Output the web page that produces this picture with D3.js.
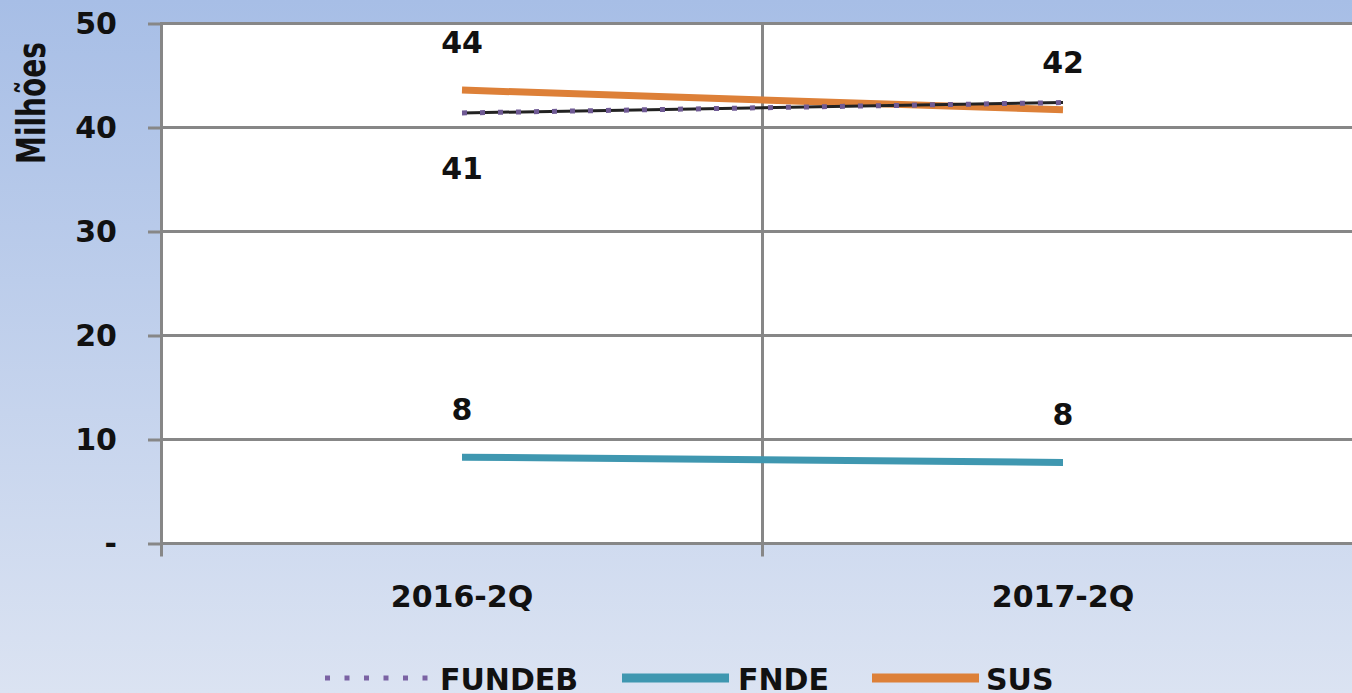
<!DOCTYPE html>
<html>
<head>
<meta charset="utf-8">
<script src="https://cdn.jsdelivr.net/npm/d3@7"></script>
<style>
  body { margin: 0; overflow: hidden; }
  text { font-family: "DejaVu Sans", sans-serif; font-weight: bold; fill: #111; }
</style>
</head>
<body>
<div id="chart"></div>
<script>
// data (milhões)
var categories = ["2016-2Q", "2017-2Q"];
var fundeb = [41.4, 42.4];
var fnde = [8.3, 7.8];
var sus = [43.6, 41.7];
var yTicks = [0, 10, 20, 30, 40, 50];
var yTickLabels = ["-", "10", "20", "30", "40", "50"];
var seriesNames = ["FUNDEB", "FNDE", "SUS"];

var width = 1352, height = 693;
var plot = {left: 161.5, top: 23.5, bottom: 543.5, right: 1363.5};

var svg = d3.select("#chart").append("svg")
    .attr("width", width)
    .attr("height", height);

// background gradient
var grad = svg.append("defs").append("linearGradient")
    .attr("id", "bg").attr("x1", 0).attr("y1", 0).attr("x2", 0).attr("y2", 1);
grad.append("stop").attr("offset", "0%").attr("stop-color", "#a7bee6");
grad.append("stop").attr("offset", "100%").attr("stop-color", "#dbe3f2");
svg.append("rect").attr("width", width).attr("height", height).attr("fill", "url(#bg)");

var x = d3.scaleBand().domain(categories).range([plot.left, plot.right]);
var y = d3.scaleLinear().domain([0, 50]).range([plot.bottom, plot.top]);
var cx = function(c) { return x(c) + x.bandwidth() / 2; };

// plot area
svg.append("rect")
    .attr("x", plot.left).attr("y", plot.top)
    .attr("width", width - plot.left).attr("height", plot.bottom - plot.top)
    .attr("fill", "white");

var gridColor = "#878787";

// horizontal grid
svg.append("g").selectAll("line")
  .data(yTicks)
  .enter().append("line")
    .attr("x1", plot.left).attr("x2", width)
    .attr("y1", function(d) { return y(d); })
    .attr("y2", function(d) { return y(d); })
    .attr("stroke", gridColor).attr("stroke-width", 3);

// vertical grid / category boundaries
var bounds = categories.map(function(c) { return x(c); });
svg.append("g").selectAll("line")
  .data(bounds)
  .enter().append("line")
    .attr("x1", function(d) { return d; }).attr("x2", function(d) { return d; })
    .attr("y1", plot.top - 1.5).attr("y2", y(0) + 13)
    .attr("stroke", gridColor).attr("stroke-width", 3);

// y axis
var yAxis = svg.append("g")
    .attr("transform", "translate(" + plot.left + ",0)")
    .call(d3.axisLeft(y)
      .tickValues(yTicks)
      .tickFormat(function(d, i) { return yTickLabels[i]; })
      .tickSize(13.5)
      .tickSizeOuter(0)
      .tickPadding(31));
yAxis.select(".domain").remove();
yAxis.selectAll("line").attr("stroke", gridColor).attr("stroke-width", 3);
yAxis.selectAll("text")
    .style("font-size", "30px")
    .style("font-family", "DejaVu Sans")
    .style("font-weight", "bold")
    .attr("fill", "#111");

// y title
svg.append("text")
    .attr("transform", "translate(45,103) rotate(-90) scale(1,1.4)")
    .attr("text-anchor", "middle")
    .style("font-size", "28px")
    .text("Milhões");

// x labels
svg.append("g").selectAll("text")
  .data(categories)
  .enter().append("text")
    .attr("x", function(d) { return cx(d); })
    .attr("y", 607)
    .attr("text-anchor", "middle")
    .style("font-size", "30px")
    .text(function(d) { return d; });

var line = d3.line()
    .x(function(d, i) { return cx(categories[i]); })
    .y(function(d) { return y(d); });

// FNDE
svg.append("path").datum(fnde)
    .attr("d", line).attr("fill", "none")
    .attr("stroke", "#3f97b0").attr("stroke-width", 7);

// SUS
svg.append("path").datum(sus)
    .attr("d", line).attr("fill", "none")
    .attr("stroke", "#dd8038").attr("stroke-width", 7);

// FUNDEB
svg.append("path").datum(fundeb)
    .attr("d", line).attr("fill", "none")
    .attr("stroke", "#222").attr("stroke-width", 3);
svg.append("path").datum(fundeb)
    .attr("d", line).attr("fill", "none")
    .attr("stroke", "#6f5a94").attr("stroke-width", 5)
    .attr("stroke-dasharray", "5,13");

// data labels
function labels(values, where) {
  svg.append("g").selectAll("text")
    .data(values)
    .enter().append("text")
      .filter(function(d, i) { return where[i] != null; })
      .attr("x", function(d, i) { return cx(categories[values.indexOf(d)]); })
      .attr("y", function(d) {
        var i = values.indexOf(d);
        return where[i] == "below" ? y(d) + 66 : y(d) - 37;
      })
      .attr("text-anchor", "middle")
      .style("font-size", "30px")
      .text(function(d) { return d3.format(".0f")(d); });
}
labels(fnde, ["above", "above"]);
labels(sus, ["above", "above"]);
labels(fundeb, ["below", null]);

// legend
var legend = svg.append("g");
legend.append("line")
    .attr("x1", 325).attr("x2", 430).attr("y1", 678).attr("y2", 678)
    .attr("stroke", "#7a62a3").attr("stroke-width", 5)
    .attr("stroke-dasharray", "5,14.5");
legend.append("line")
    .attr("x1", 622).attr("x2", 729).attr("y1", 678).attr("y2", 678)
    .attr("stroke", "#3f97b0").attr("stroke-width", 9);
legend.append("line")
    .attr("x1", 872).attr("x2", 979).attr("y1", 678).attr("y2", 678)
    .attr("stroke", "#dd8038").attr("stroke-width", 9);
var legendX = [440, 738, 986];
legend.selectAll("text")
  .data(seriesNames)
  .enter().append("text")
    .attr("x", function(d, i) { return legendX[i]; })
    .attr("y", 690)
    .style("font-size", "30px")
    .text(function(d) { return d; });
</script>
</body>
</html>
